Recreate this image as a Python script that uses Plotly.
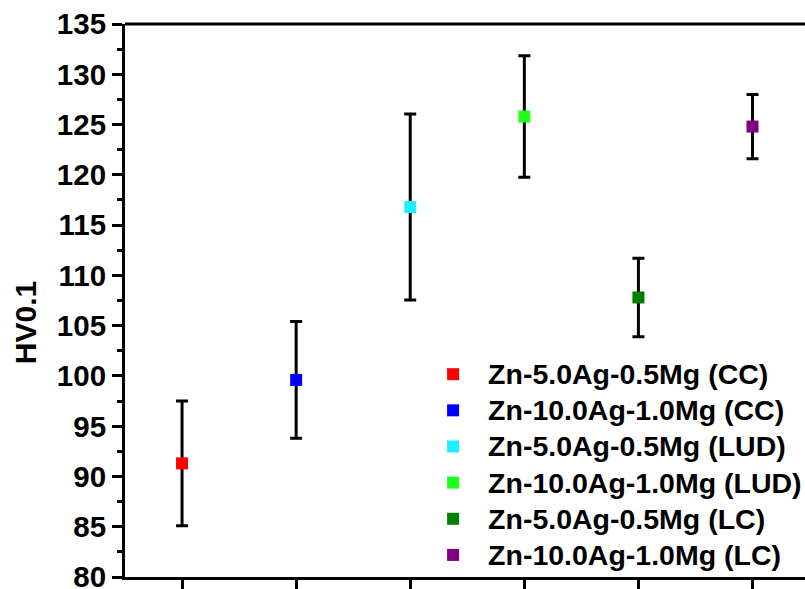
import plotly.graph_objects as go

names = [
    "Zn-5.0Ag-0.5Mg (CC)",
    "Zn-10.0Ag-1.0Mg (CC)",
    "Zn-5.0Ag-0.5Mg (LUD)",
    "Zn-10.0Ag-1.0Mg (LUD)",
    "Zn-5.0Ag-0.5Mg (LC)",
    "Zn-10.0Ag-1.0Mg (LC)",
]
x_pos = [1, 2, 3, 4, 5, 6]
hv_mean = [91.3, 99.6, 116.8, 125.8, 107.8, 124.8]
hv_err = [6.2, 5.8, 9.25, 6.05, 3.9, 3.2]
colors = ["#FF0000", "#0000FF", "#1EEFFF", "#1EFF1E", "#007F00", "#800080"]

FONT = "Liberation Sans, Arial, sans-serif"

fig = go.Figure()
for n, xp, m, e, c in zip(names, x_pos, hv_mean, hv_err, colors):
    fig.add_trace(go.Scatter(
        x=[xp], y=[m], name='<span style="font-size:28.5px">' + n + '</span>', mode="markers",
        marker=dict(symbol="square", size=12, color=c, line=dict(width=0)),
        error_y=dict(type="data", array=[e], visible=True, color="black",
                     thickness=3, width=6),
    ))

fig.update_layout(
    width=805, height=589,
    margin=dict(l=125, r=0, t=24, b=12, autoexpand=False),
    plot_bgcolor="white", paper_bgcolor="white",
    font=dict(family=FONT, size=29, color="black", weight="bold"),
    showlegend=True,
    legend=dict(
        x=0.431, y=-0.002, xanchor="left", yanchor="bottom",
        bgcolor="rgba(0,0,0,0)", borderwidth=0,
        font=dict(family=FONT, size=25.5, color="black", weight="bold"),
        itemwidth=60, tracegroupgap=0,
    ),
    xaxis=dict(
        range=[0.5, 6.46], tickvals=x_pos, showticklabels=False,
        ticks="outside", ticklen=12, tickwidth=3, tickcolor="black",
        showline=True, linewidth=3, linecolor="black", mirror=False,
        showgrid=False, zeroline=False, automargin=False,
    ),
    yaxis=dict(
        range=[80, 135], dtick=5, tick0=80,
        ticks="outside", ticklen=10, tickwidth=3, tickcolor="black",
        minor=dict(dtick=2.5, ticks="outside", ticklen=5, tickwidth=3, tickcolor="black"),
        showline=True, linewidth=3, linecolor="black", mirror=False,
        showgrid=False, zeroline=False, automargin=False,
        ticklabeloverflow="allow",
        tickfont=dict(family=FONT, size=29.5, color="black", weight="bold"),
    ),
    shapes=[dict(type="line", xref="paper", yref="paper", x0=0, x1=1, y0=1, y1=1,
                 line=dict(color="black", width=3))],
    annotations=[dict(text="HV0.1", xref="paper", yref="paper", x=-0.147, y=0.459,
                      textangle=-90, showarrow=False, xanchor="center", yanchor="middle",
                      font=dict(family=FONT, size=30, color="black", weight="bold"))],
)

fig.write_html("out.html")
